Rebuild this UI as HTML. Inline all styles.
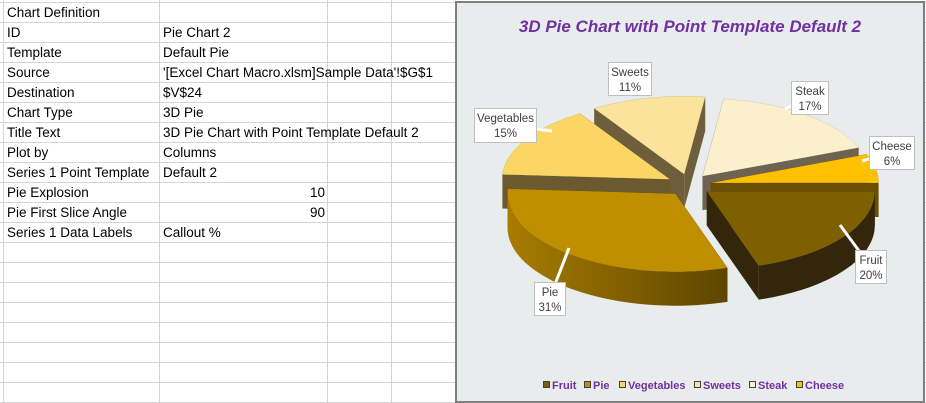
<!DOCTYPE html>
<html><head><meta charset="utf-8">
<style>
body{margin:0;width:926px;height:403px;overflow:hidden;background:#fff;font-family:"Liberation Sans",Arial,sans-serif;}
#sheet{position:absolute;left:0;top:0;width:926px;height:403px;}
.cell{position:absolute;font-size:13.5px;color:#000;line-height:20px;white-space:nowrap;}
#chart{position:absolute;left:455px;top:1px;width:466px;height:398px;border:2px solid #7f7f7f;background:#e8ecec;}
</style></head><body>
<svg id="sheet" width="926" height="403"></svg>
<div id="cells"></div>
<div id="chart">
<svg id="pie" width="466" height="398" style="position:absolute;left:0;top:0"></svg>
</div>
<script>
// ---- spreadsheet ----
const labels=["Chart Definition","ID","Template","Source","Destination","Chart Type","Title Text","Plot by","Series 1 Point Template","Pie Explosion","Pie First Slice Angle","Series 1 Data Labels"];
const values=["","Pie Chart 2","Default Pie","'[Excel Chart Macro.xlsm]Sample Data'!$G$1","$V$24","3D Pie","3D Pie Chart with Point Template Default 2","Columns","Default 2","10","90","Callout %"];
const NS="http://www.w3.org/2000/svg";
const sheet=document.getElementById('sheet');
function ln(svg,x1,y1,x2,y2,c,w){const l=document.createElementNS(NS,'line');l.setAttribute('x1',x1);l.setAttribute('y1',y1);l.setAttribute('x2',x2);l.setAttribute('y2',y2);l.setAttribute('stroke',c);l.setAttribute('stroke-width',w||1);svg.appendChild(l);return l;}
for(let y=2.5;y<403;y+=20){const l=ln(sheet,0,y,926,y,'#d4d4d4');

}
[3.5,159.5,327.5,391.5].forEach(x=>{const l=ln(sheet,x,0,x,403,'#d4d4d4');

});
const cells=document.getElementById('cells');
labels.forEach((t,i)=>{const d=document.createElement('div');d.className='cell';d.style.left='7px';d.style.top=(3+i*20)+'px';d.textContent=t;


cells.appendChild(d);
const v=document.createElement('div');v.className='cell';v.textContent=values[i];
if(/^\d+$/.test(values[i])){v.style.left='160px';v.style.width='165px';v.style.textAlign='right';}else{v.style.left='163px';}
v.style.top=(3+i*20)+'px';


cells.appendChild(v);});

// ---- pie chart ----
const categories=["Fruit","Pie","Vegetables","Sweets","Steak","Cheese"];
const seriesValues=[20,31,15,11,17,6];
const topColors=["#7f6000","#bf8f00","#fcd665","#fbe39c","#fcefcc","#ffc000"];
const wallColors=["#33260a","url(#pieWall)","#6b5a30","#d9bd80","#6e6350","#7a5c00"];
const radColors=["#33260a","#6b5000","#6b5a30","#6e5e3c","#6e6350","#6a5000"];
const svg=document.getElementById('pie');
function el(tag,attrs,parent){const e=document.createElementNS(NS,tag);for(const k in attrs)e.setAttribute(k,attrs[k]);(parent||svg).appendChild(e);return e;}
const defs=el('defs',{});
const g=el('linearGradient',{id:'pieWall',x1:'0',x2:'1',y1:'0',y2:'0'},defs);
el('stop',{offset:'0','stop-color':'#a77c00'},g);el('stop',{offset:'1','stop-color':'#5e4600'},g);
const t=el('text',{x:233,y:29,'text-anchor':'middle','font-size':'17','font-weight':'bold','font-style':'italic',fill:'#7030a0','font-family':'Liberation Sans, sans-serif'});
t.textContent="3D Pie Chart with Point Template Default 2";


const cx=232,cy=182,rx=168,ry=78,depth=34,explode=22,startAngle=90;
const total=seriesValues.reduce((a,b)=>a+b,0);
function pt(ox,oy,a,dy){const r=a*Math.PI/180;return [ox+rx*Math.sin(r),oy-ry*Math.cos(r)+(dy||0)];}
let slices=[];let acc=startAngle;
seriesValues.forEach((v,i)=>{const a0=acc,a1=acc+v/total*360;acc=a1;const mid=(a0+a1)/2*Math.PI/180;
const ox=cx+explode*Math.sin(mid),oy=cy-explode*0.5*Math.cos(mid);slices.push({i,a0,a1,ox,oy,mid});});
slices.sort((a,b)=>(-Math.cos(a.mid))-(-Math.cos(b.mid)));
function arcPath(ox,oy,a0,a1,dy,rev){let s='';const n=40;for(let k=0;k<=n;k++){const a=rev?a1-(a1-a0)*k/n:a0+(a1-a0)*k/n;const p=pt(ox,oy,a,dy);s+=(k?'L':'')+p[0].toFixed(1)+' '+p[1].toFixed(1)+' ';}return s;}
slices.forEach(s=>{const gr=el('g',{});


[s.a0,s.a1].forEach(a=>{const p=pt(s.ox,s.oy,a);
el('path',{d:`M${s.ox} ${s.oy}L${p[0]} ${p[1]}L${p[0]} ${p[1]+depth}L${s.ox} ${s.oy+depth}Z`,fill:radColors[s.i]},gr);});
const lo=Math.max(s.a0,90),hi=Math.min(s.a1,270);
const lo2=Math.max(s.a0,450),hi2=Math.min(s.a1,630);
[[lo,hi],[lo2,hi2]].forEach(([a,b])=>{if(b>a){el('path',{d:'M'+arcPath(s.ox,s.oy,a,b,0,false)+'L'+arcPath(s.ox,s.oy,a,b,depth,true)+'Z',fill:wallColors[s.i]},gr);}});
el('path',{d:`M${s.ox} ${s.oy}L`+arcPath(s.ox,s.oy,s.a0,s.a1,0,false)+'Z',fill:topColors[s.i],stroke:'rgba(0,0,0,0.15)','stroke-width':0.5},gr);
});
// callout labels
const callouts=[
 {i:0,x:398,y:247,w:31,h:33,px:383,py:222},
 {i:1,x:77,y:279,w:31,h:33,px:112,py:245},
 {i:2,x:17,y:105,w:62,h:34,px:95,py:128},
 {i:3,x:151,y:59,w:43,h:33,px:178,py:92},
 {i:4,x:334,y:78,w:37,h:33,px:328,py:106},
 {i:5,x:412,y:133,w:45,h:33,px:405,py:158}];
callouts.forEach(c=>{const gr=el('g',{});


const pct=Math.round(seriesValues[c.i]/total*100);
el('line',{x1:c.x+c.w/2,y1:c.y+c.h/2,x2:c.px,y2:c.py,stroke:'#fff','stroke-width':3},gr);
el('rect',{x:c.x+0.5,y:c.y+0.5,width:c.w,height:c.h,fill:'#fff',stroke:'#bfbfbf'},gr);
const a=el('text',{x:c.x+c.w/2+0.5,y:c.y+14,'text-anchor':'middle','font-size':'11.5',fill:'#404040'},gr);a.textContent=categories[c.i];
const b=el('text',{x:c.x+c.w/2+0.5,y:c.y+29,'text-anchor':'middle','font-size':'11.5',fill:'#404040'},gr);b.textContent=pct+'%';});
// legend
const legendX=[86,127,162,237,292,339];
categories.forEach((c,i)=>{const gr=el('g',{});


el('rect',{x:legendX[i]+0.5,y:378.5,width:6,height:6,fill:topColors[i],stroke:'#404040','stroke-width':1},gr);
const tx=el('text',{x:legendX[i]+9,y:386,'font-size':'11','font-weight':'bold',fill:'#7030a0'},gr);tx.textContent=c;});
</script>
</body></html>
